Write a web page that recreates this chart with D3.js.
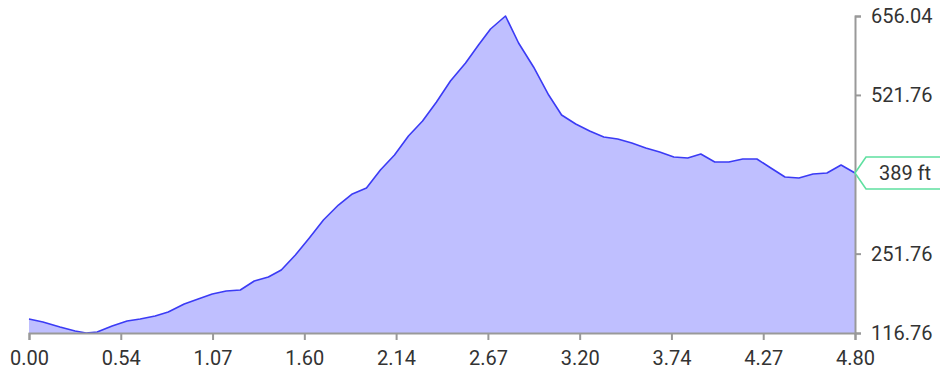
<!DOCTYPE html>
<html><head><meta charset="utf-8">
<script src="https://cdn.jsdelivr.net/npm/d3@7"></script>
<style>
html,body{margin:0;padding:0;background:#fff;}
svg{display:block;font-family:Roboto,"Noto Sans",sans-serif;}
</style></head>
<body><svg id="c" width="940" height="373"></svg>
<script>
const distance = [0,0.081,0.180,0.268,0.332,0.396,0.483,0.570,0.646,0.733,0.809,0.902,0.983,1.065,1.146,1.228,1.309,1.391,1.466,1.548,1.629,1.711,1.798,1.879,1.961,2.042,2.124,2.205,2.287,2.368,2.449,2.537,2.612,2.682,2.769,2.845,2.932,3.020,3.095,3.177,3.258,3.340,3.421,3.503,3.584,3.665,3.747,3.828,3.904,3.985,4.067,4.148,4.230,4.311,4.393,4.474,4.556,4.637,4.719,4.8];
const elevation = [140.6,135.5,127.0,120.2,116.76,118.5,128.7,137.2,140.6,145.7,152.5,166.1,174.6,183.1,188.2,189.9,205.2,212.0,223.9,249.4,278.4,309.0,334.5,353.3,363.4,394.0,419.6,451.9,477.4,509.7,545.4,576.1,606.7,633.9,656.04,610.1,569.3,521.6,487.6,472.3,460.4,450.2,446.8,440.0,431.5,424.7,416.2,414.5,421.3,407.6,407.6,412.7,412.7,397.4,382.1,380.4,387.2,388.9,402.5,389.0];
const xTickValues = [0,0.5333,1.0667,1.6,2.1333,2.6667,3.2,3.7333,4.2667,4.8];
const xTickLabels = ["0.00","0.54","1.07","1.60","2.14","2.67","3.20","3.74","4.27","4.80"];
const yTickValues = [116.76,251.76,521.76,656.04];
const yTickLabels = ["116.76","251.76","521.76","656.04"];
const currentLabel = "389 ft";

const svg = d3.select("#c");
const x = d3.scaleLinear().domain([0,4.8]).range([29,855]);
const y = d3.scaleLinear().domain([116.76,656.04]).range([333,16]);
const data = distance.map((d,i)=>({d, e: elevation[i]}));

svg.append("path").datum(data)
  .attr("fill","#bfbfff")
  .attr("d", d3.area().x(p=>x(p.d)).y0(y(116.76)).y1(p=>y(p.e)));
svg.append("path").datum(data)
  .attr("fill","none").attr("stroke","#3b3bf5").attr("stroke-width",1.6)
  .attr("stroke-linejoin","round")
  .attr("d", d3.line().x(p=>x(p.d)).y(p=>y(p.e)));

const xa = svg.append("g").attr("transform",`translate(0,${y(116.76)})`)
  .call(d3.axisBottom(x).tickValues(xTickValues).tickFormat((d,i)=>xTickLabels[i]).tickSizeOuter(0).tickSize(7).tickPadding(11));
const ya = svg.append("g").attr("transform",`translate(${x(4.8)},0)`)
  .call(d3.axisRight(y).tickValues(yTickValues).tickFormat((d,i)=>yTickLabels[i]).tickSizeOuter(0).tickSize(6).tickPadding(10));
[xa,ya].forEach(a=>{
  a.selectAll("path,line").attr("stroke","#999").attr("stroke-width",2);
  a.selectAll("text").attr("fill","#333").style("font-size","20px").style("font-family","Roboto,sans-serif");
});

// current elevation marker
const last = data[data.length-1];
const mx = x(last.d), my = y(last.e);
svg.append("path")
  .attr("d", `M${mx},${my} L${mx+11},${my-16} L${941},${my-16} L${941},${my+16} L${mx+11},${my+16} Z`)
  .attr("fill","#fff").attr("stroke","#5fe0a0").attr("stroke-width",1.6);
svg.append("text").attr("x",mx+50).attr("y",my+1.5).attr("text-anchor","middle")
  .attr("dominant-baseline","middle").attr("fill","#333").style("font-size","20px")
  .text(currentLabel);
</script></body></html>
